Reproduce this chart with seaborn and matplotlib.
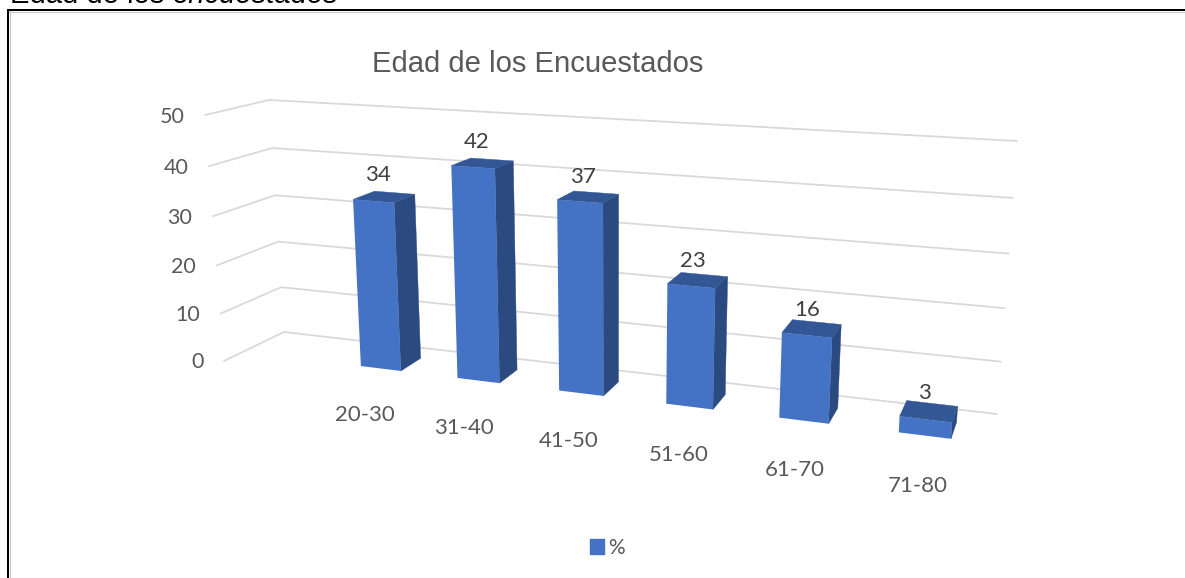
import numpy as np
import pandas as pd
import seaborn as sns
import matplotlib.pyplot as plt
from matplotlib.patches import Patch, Polygon
from matplotlib.transforms import Transform

edades = ["20-30", "31-40", "41-50", "51-60", "61-70", "71-80"]
porcentajes = [34, 42, 37, 23, 16, 3]
y_ticks = [0, 10, 20, 30, 40, 50]

FRONT = "#4472C4"
SIDE = "#2A4A80"
TOP = "#335795"
GRID = "#D9D9D9"
TEXT = "#595959"
LABEL = "#404040"
BAR_W = 0.42
PX = 0.72  # points per pixel at dpi 100

# camera of the 3d look: (category, value, depth) -> image pixels
CAM = np.array([[85.671586, -0.540772, 31.249992, 380.765976],
                [2.523908, -5.102222, -2.737777, 368.50819],
                [-0.024998, -0.000879, 0.027584, 1.0]])
# back wall (category edge, value) and left wall (depth, value)
WALL = np.array([[92.814679, -0.529214, 284.0],
                 [2.862532, -4.72521, 332.0],
                 [-0.026097, -0.000852, 1.0]])
SIDE_WALL = np.array([[78.012605, -0.575303, 224.0],
                      [-7.943011, -5.02956, 361.0],
                      [0.063425, -0.000953, 1.0]])


def project(x, y, z=0.0):
    x, y, z = np.broadcast_arrays(x, y, z)
    pts = CAM @ np.stack([x, y, z, np.ones_like(x)], dtype=float)
    return np.stack([pts[0] / pts[2], pts[1] / pts[2]], axis=-1)


def plane(h, x, y):
    pts = h @ np.array([x, y, 1.0])
    return pts[:2] / pts[2]


class FrontFace(Transform):
    input_dims = 2
    output_dims = 2
    is_affine = False

    def __init__(self, after):
        super().__init__()
        self.after = after

    def transform_non_affine(self, values):
        values = np.asarray(values)
        return self.after.transform(project(values[:, 0], values[:, 1]))


sns.set_style("white")
fig = plt.figure(figsize=(11.85, 5.78), dpi=100)
ax = fig.add_axes([8 / 1185, 0, 1 - 8 / 1185, 568 / 578])

df = pd.DataFrame({"edad": edades, "pct": porcentajes})
sns.barplot(data=df, x="edad", y="pct", color=FRONT, saturation=1, width=BAR_W,
            ax=ax, zorder=4, linewidth=0)

ax.set_xlim(8, 1185)
ax.set_ylim(578, 10)
ax.set_xticks([])
ax.set_yticks([])
ax.set_xlabel("")
ax.set_ylabel("")
sns.despine(ax=ax, top=False, left=False, right=True, bottom=True)
for s in ["left", "top"]:
    ax.spines[s].set_color("black")
    ax.spines[s].set_linewidth(1.44)
ax.axhline(11.5, color="#C8C8C8", lw=0.8, zorder=1)
ax.axvline(9.5, color="#C8C8C8", lw=0.8, zorder=1)

# grid on both walls
for t in y_ticks:
    a = plane(SIDE_WALL, 0, t)
    b = plane(WALL, 0, t)
    c = plane(WALL, 6, t)
    ax.plot([a[0], b[0], c[0]], [a[1], b[1], c[1]], color=GRID, lw=1.3, zorder=1)
    ax.annotate(str(t), a, xytext=(-20.5 * PX, -1.5 * PX), textcoords="offset points",
                ha="right", va="center", fontsize=15.5, color=TEXT, family="Lato")

front = FrontFace(ax.transData)
for i, rect in enumerate(ax.patches):
    rect.set_transform(front)
    rect.set_clip_on(False)
    l, r = rect.get_x(), rect.get_x() + rect.get_width()
    v = rect.get_height()
    side = project([r, r, r, r], [0, v, v, 0], [0, 0, 1, 1])
    top = project([l, r, r, l], [v, v, v, v], [0, 0, 1, 1])
    ax.add_patch(Polygon(side, fc=SIDE, ec=SIDE, lw=0.3, zorder=3))
    ax.add_patch(Polygon(top, fc=TOP, ec=TOP, lw=0.3, zorder=3))
    # value above the bar, category below it
    ax.annotate(str(porcentajes[i]), project(i, v, 0.5),
                xytext=((-6 + 0.4 * i) * PX, (22 - 0.8 * i) * PX),
                textcoords="offset points", ha="center", va="center", fontsize=16,
                color=LABEL, family="Lato")
    ax.annotate(edades[i], project(i, 0, 0),
                xytext=((-16 + 1.8 * i) * PX, -(46.5 + 0.7 * i) * PX),
                textcoords="offset points", ha="center", va="center", fontsize=16,
                color=TEXT, family="Lato")

ax.text(537.5, 63.5, "Edad de los Encuestados", ha="center", va="center", fontsize=21.1,
        color=TEXT, family="Liberation Sans")

# caption of the page, cut by the top of the image
cap = ax.text(10, 3, "Edad de los ", ha="left", va="baseline", fontsize=21,
              color="black", family="Liberation Sans")
fig.canvas.draw()
ext = cap.get_window_extent()
x_end = ax.transData.inverted().transform((ext.x1, ext.y0))[0]
ax.text(x_end, 3, "encuestados", ha="left", va="baseline", fontsize=21,
        color="black", family="Liberation Sans", style="italic")

ax.legend(handles=[Patch(color=FRONT, label="%")], loc="center",
          bbox_to_anchor=(607.5, 548), bbox_transform=ax.transData, frameon=False,
          handlelength=0.7, handleheight=0.7, handletextpad=0.2,
          labelcolor=TEXT, prop={"family": "Lato", "size": 15})

fig.savefig("out.png", dpi=100)
